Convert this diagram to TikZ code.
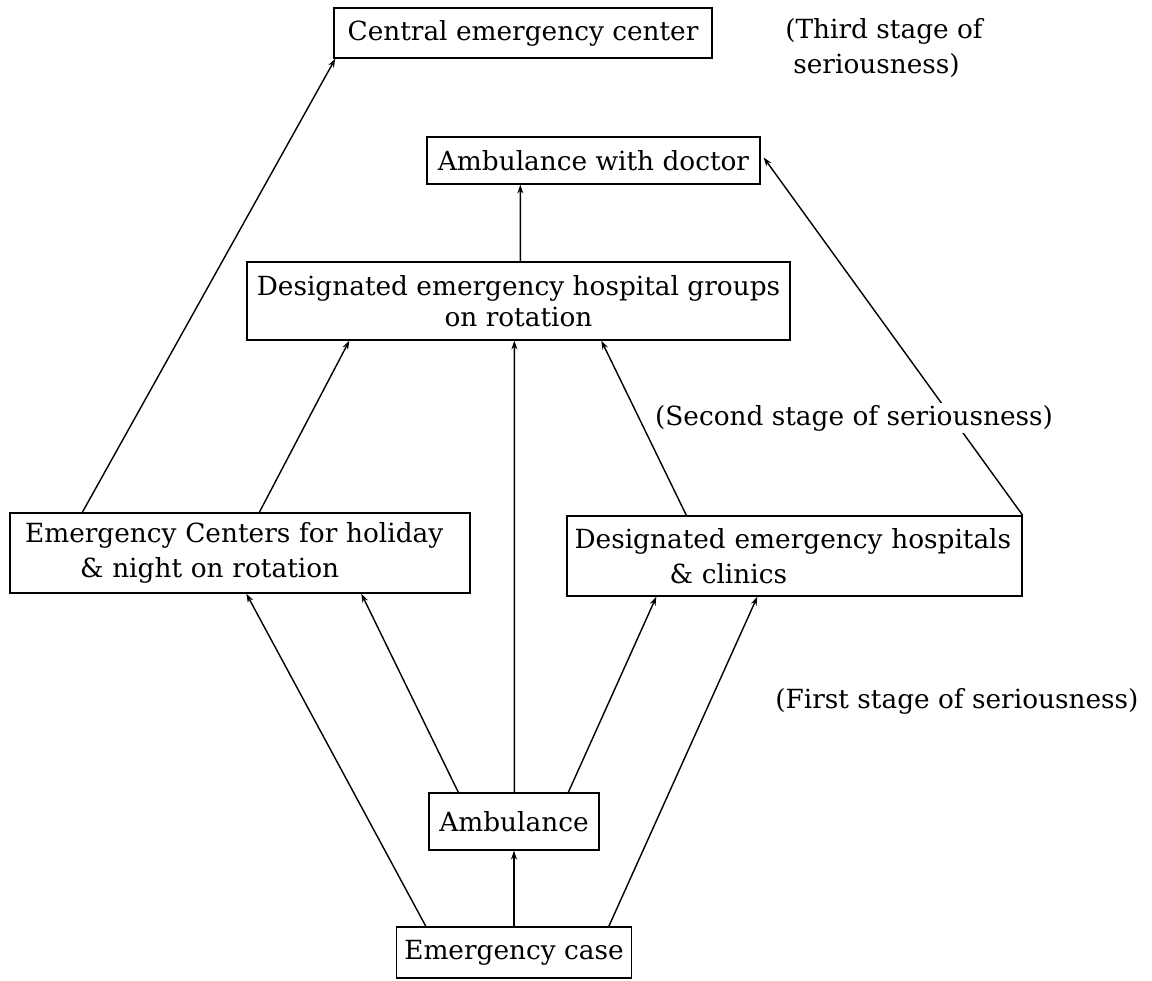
\documentclass[tikz,border=0pt]{standalone}
\usepackage{fontspec}
\setmainfont{DejaVu Serif}
\usetikzlibrary{arrows.meta,calc}
\begin{document}
\begin{tikzpicture}[x=0.02cm,y=-0.02cm,
  box/.style={draw, line width=0.8pt, inner sep=0pt, font=\fontsize{15}{20}\selectfont},
  lbl/.style={inner sep=0pt, font=\fontsize{15}{20}\selectfont},
  arr/.style={line width=0.8pt, -{Stealth[length=5pt,width=3.4pt]}}
]
\useasboundingbox (0,0) rectangle (1152,980);

\node[box, minimum width=7.56cm, minimum height=1.0cm] (central) at (523,33) {Central emergency center};
\node[box, minimum width=6.66cm, minimum height=0.94cm] (doctor) at (593.5,160.5) {Ambulance with doctor};
\node[box, minimum width=10.86cm, minimum height=1.56cm, align=center, font=\fontsize{15}{18}\selectfont] (groups) at (518.5,301) {Designated emergency hospital groups\\on rotation};
\node[box, text width=8.6cm, inner xsep=0.3cm, minimum height=1.6cm, align=left] (ecent) at (240,553) {Emergency Centers for holiday\\\hspace*{1.1cm}\& night on rotation};
\node[box, text width=8.8cm, inner xsep=0.15cm, minimum height=1.6cm, align=left] (hosp) at (794.5,556) {Designated emergency hospitals\\\hspace*{1.9cm}\& clinics};
\node[box, minimum width=3.4cm, minimum height=1.14cm] (amb) at (514,821.5) {Ambulance};
\node[box, minimum width=4.7cm, minimum height=1.02cm] (ecase) at (514,952.5) {Emergency case};

\node[lbl, anchor=west, align=left] (third) at (785,48) {(Third stage of\\\hspace*{0.16cm}seriousness)};
\node[lbl, anchor=base west] (first) at (775,708) {(First stage of seriousness)};

% arrows
\draw[arr] (ecase.north) -- (amb.south);
\draw[arr] ($(amb.north west)+(86,0)$) -- ($(groups.south west)+(268,0)$);
\draw[arr] ($(groups.north west)+(274,0)$) -- ($(doctor.south west)+(94,0)$);

\draw[arr] ($(ecent.north west)+(73,0)$) -- ($(central.south west)+(2,0)$);
\draw[arr] ($(ecent.north west)+(250,0)$) -- ($(groups.south west)+(103,0)$);
\draw[arr] ($(hosp.north west)+(120,0)$) -- ($(groups.south west)+(355,0)$);
\draw[arr] (hosp.north east) -- ($(doctor.east)+(3,-3)$);

\draw[arr] ($(amb.north west)+(30,0)$) -- ($(ecent.south west)+(352,0)$);
\draw[arr] ($(ecase.north west)+(30,0)$) -- ($(ecent.south west)+(237,0)$);
\draw[arr] ($(amb.north west)+(140,0)$) -- ($(hosp.south west)+(90,0)$);
\draw[arr] ($(ecase.north west)+(213,0)$) -- ($(hosp.south west)+(191,0)$);

\node[lbl, anchor=base west, fill=white, inner sep=1pt] (second) at (653,425) {(Second stage of seriousness)};
\end{tikzpicture}
\end{document}
